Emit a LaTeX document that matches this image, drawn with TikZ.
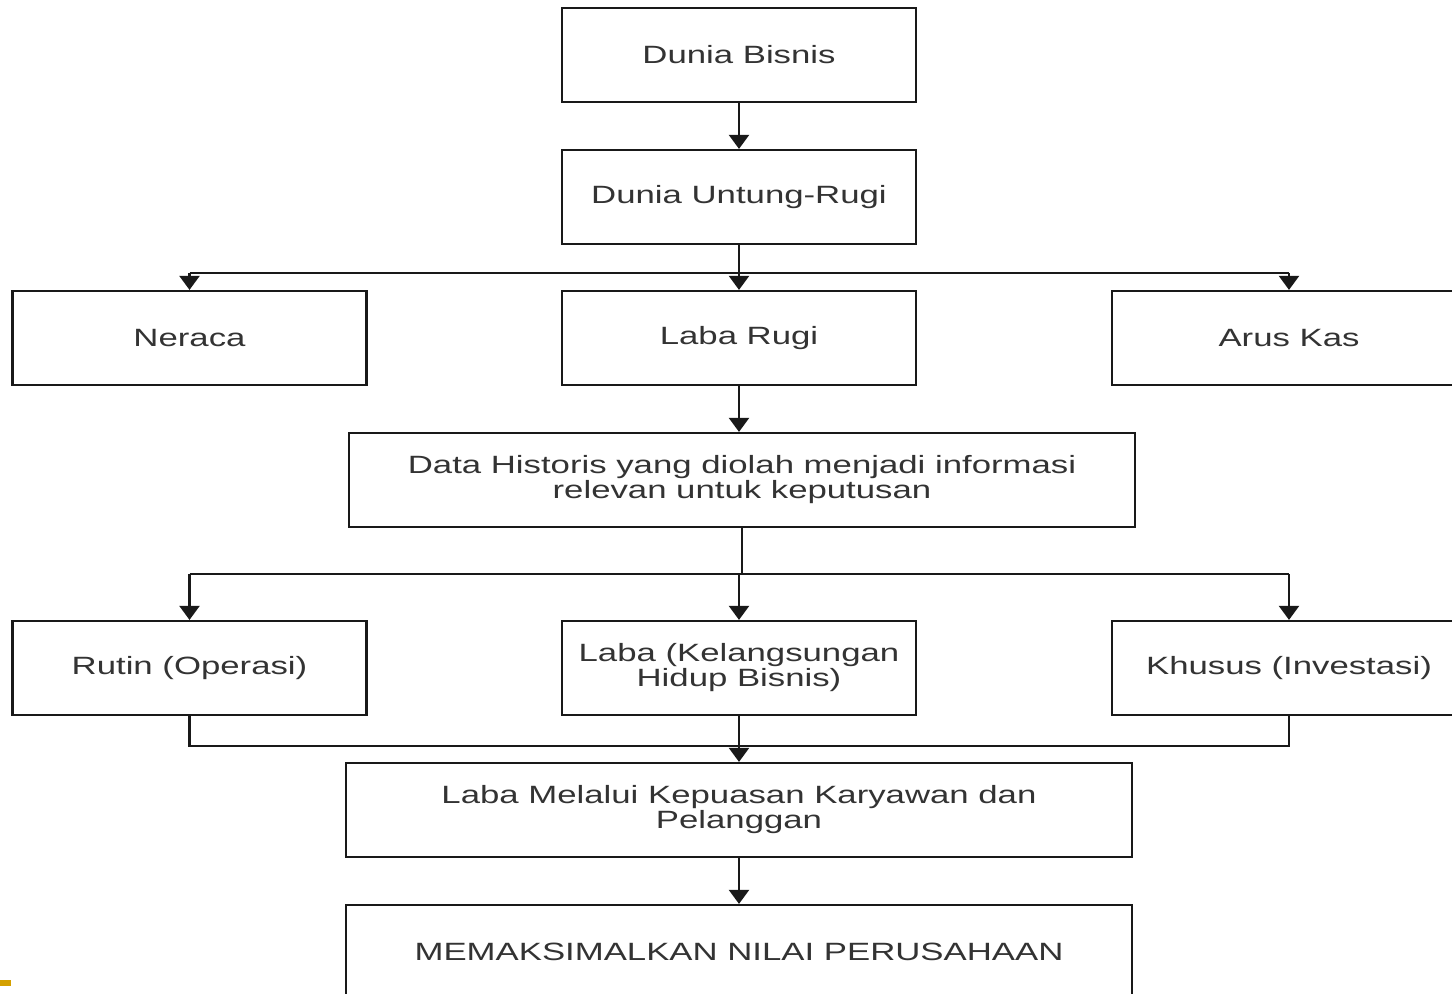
\documentclass[tikz,border=0pt]{standalone}
\usepackage{fontspec}
\setmainfont{Liberation Sans}[FakeStretch=1.39]
\usetikzlibrary{arrows.meta}
\definecolor{ink}{RGB}{25,25,25}
\definecolor{gold}{RGB}{212,160,0}
\begin{document}
\begin{tikzpicture}[x=0.5pt,y=-0.5pt,
  box/.style={draw=ink, line width=1.1pt, minimum width=177pt, minimum height=47pt,
    inner sep=0pt, align=center, text=black!80, font=\fontsize{12.5}{12.5}\selectfont},
  wide/.style={box, minimum width=393pt},
  conn/.style={draw=ink, line width=1.1pt},
  arr/.style={conn, -{Triangle[width=10pt,length=7pt]}}]
\useasboundingbox (0,0) rectangle (1452,994);
\clip (0,0) rectangle (1452,994);
\node[box] (bisnis) at (739,55) {Dunia Bisnis};
\node[box] (untung) at (739,197) {Dunia Untung-Rugi};
\node[box] (neraca) at (189.5,338) {Neraca};
\node[box] (labarugi) at (739,338) {Laba Rugi};
\node[box] (aruskas) at (1289,338) {Arus Kas};
\node[wide] (data) at (742,480) {Data Historis yang diolah menjadi informasi\\relevan untuk keputusan};
\node[box] (rutin) at (189.5,668) {Rutin (Operasi)};
\node[box] (labak) at (739,668) {Laba (Kelangsungan\\Hidup Bisnis)};
\node[box] (khusus) at (1289,668) {Khusus (Investasi)};
\node[wide] (melalui) at (739,810) {Laba Melalui Kepuasan Karyawan dan\\Pelanggan};
\node[wide] (maks) at (739,952) {MEMAKSIMALKAN NILAI PERUSAHAAN};
% connectors
\draw[arr] (bisnis.south) -- (untung.north);
\draw[arr] (untung.south) -- (labarugi.north);
\coordinate (b1) at (189.5,273);
\coordinate (b2) at (1289,273);
\draw[conn] (b1) -- (b2);
\draw[arr] (b1) -- (neraca.north);
\draw[arr] (b2) -- (aruskas.north);
\draw[arr] (labarugi.south) -- (data.north -| labarugi.south);
\coordinate (d0) at (742,574);
\coordinate (c1) at (189.5,574);
\coordinate (c2) at (739,574);
\coordinate (c3) at (1289,574);
\draw[conn] (data.south) -- (d0);
\draw[conn] (c1) -- (c3);
\draw[arr] (c1) -- (rutin.north);
\draw[arr] (c2) -- (labak.north);
\draw[arr] (c3) -- (khusus.north);
\draw[conn] (rutin.south) -- ++(0,30) -| (khusus.south);
\draw[arr] (labak.south) -- (melalui.north -| labak.south);
\draw[arr] (melalui.south -| labak.south) -- (maks.north -| labak.south);
\coordinate (g1) at (0,980);
\coordinate (g2) at (11,986);
\fill[gold] (g1) rectangle (g2);
\end{tikzpicture}
\end{document}
